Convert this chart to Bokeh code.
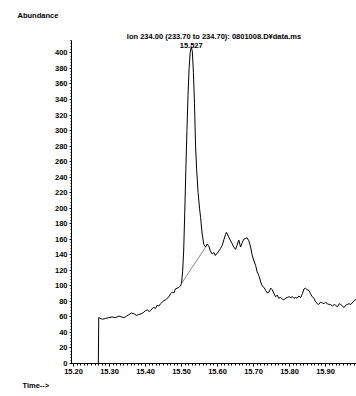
from bokeh.plotting import figure
from bokeh.models import Range1d, Label, Title, SingleIntervalTicker, NumeralTickFormatter
from bokeh.embed import file_html
from bokeh.resources import INLINE

# ---- data ----
time = [15.269, 15.270, 15.280, 15.289, 15.298, 15.307, 15.316, 15.326, 15.333, 15.340,
        15.347, 15.354, 15.361, 15.368, 15.375, 15.381, 15.388, 15.395, 15.400, 15.405,
        15.410, 15.414, 15.419, 15.423, 15.428, 15.432, 15.437, 15.442, 15.446, 15.451,
        15.456, 15.460, 15.465, 15.470, 15.474, 15.479, 15.483, 15.488, 15.493, 15.497,
        15.500, 15.503, 15.506, 15.509, 15.512, 15.515, 15.518, 15.521, 15.524, 15.527,
        15.530, 15.533, 15.536, 15.539, 15.542, 15.546, 15.550, 15.553, 15.557, 15.562,
        15.567, 15.571, 15.576, 15.580, 15.585, 15.590, 15.594, 15.599, 15.604, 15.608,
        15.613, 15.618, 15.622, 15.625, 15.630, 15.636, 15.640, 15.645, 15.650, 15.654,
        15.659, 15.664, 15.668, 15.673, 15.678, 15.682, 15.687, 15.692, 15.696, 15.701,
        15.706, 15.710, 15.715, 15.720, 15.724, 15.729, 15.734, 15.738, 15.743, 15.748,
        15.752, 15.757, 15.761, 15.766, 15.770, 15.775, 15.780, 15.784, 15.789, 15.794,
        15.798, 15.803, 15.808, 15.812, 15.817, 15.821, 15.826, 15.831, 15.836, 15.840,
        15.844, 15.849, 15.854, 15.858, 15.863, 15.868, 15.872, 15.877, 15.881, 15.886,
        15.891, 15.896, 15.900, 15.905, 15.910, 15.914, 15.919, 15.924, 15.928, 15.933,
        15.938, 15.942, 15.947, 15.951, 15.956, 15.960, 15.965, 15.970, 15.974, 15.980,
        15.986]
abundance = [0, 59, 57, 58, 59, 60, 59, 61, 60, 59,
             61, 63, 65, 64, 62, 63, 64, 66, 68, 69,
             67, 68, 71, 72, 71, 75, 74, 77, 79, 81,
             82, 84, 86, 90, 92, 91, 96, 97, 98, 100,
             103, 118, 145, 195, 250, 300, 345, 380, 400, 408,
             402, 375, 335, 280, 250, 220, 200, 188, 168, 153,
             150, 154, 151, 145, 141, 143, 139, 142, 145, 148,
             152, 160, 166, 169, 164, 158, 155, 150, 147, 152,
             159, 150, 155, 160, 161, 162, 158, 150, 140, 132,
             126, 118, 113, 105, 100, 98, 94, 91, 92, 97,
             95, 90, 86, 88, 84, 85, 83, 82, 84, 85,
             86, 85, 86, 84, 85, 84, 87, 85, 90, 96,
             97, 95, 94, 90, 86, 84, 80, 77, 76, 79,
             78, 77, 79, 77, 76, 76, 74, 76, 75, 73,
             77, 76, 74, 72, 75, 76, 77, 76, 78, 81,
             83]

# integration baseline of the labelled peak
base_time = [15.500, 15.567]
base_abundance = [103, 150]

peak_time = 15.527
peak_label = "15.527"
title_text = "Ion 234.00 (233.70 to 234.70): 0801008.D\u00a5data.ms"
y_label = "Abundance"
x_label = "Time-->"

FONT = "Liberation Sans"
FS = "7.5px"

p = figure(width=356, height=396, output_backend="svg", toolbar_location=None,
           x_range=Range1d(15.1944, 15.986), y_range=Range1d(0, 416),
           min_border_left=71, min_border_right=0, min_border_top=40, min_border_bottom=33)
p.outline_line_color = None
p.xgrid.visible = False
p.ygrid.visible = False
p.background_fill_color = "white"
p.border_fill_color = "white"

p.line(time, abundance, line_color="black", line_width=1)
p.line(base_time, base_abundance, line_color="#555555", line_width=0.7)

for ax in (p.xaxis[0], p.yaxis[0]):
    ax.axis_line_color = "black"
    ax.axis_line_width = 1
    ax.major_tick_line_color = "black"
    ax.minor_tick_line_color = "black"
    ax.major_label_text_font = FONT
    ax.major_label_text_font_style = "bold"
    ax.major_label_text_font_size = FS
    ax.major_label_text_color = "black"

p.xaxis.ticker = SingleIntervalTicker(interval=0.1, num_minor_ticks=10)
p.xaxis.formatter = NumeralTickFormatter(format="0.00")
p.xaxis.major_tick_out = 3
p.xaxis.major_tick_in = 0
p.xaxis.minor_tick_out = 2
p.xaxis.minor_tick_in = 0
p.xaxis.major_label_standoff = 2

p.yaxis.ticker = SingleIntervalTicker(interval=20, num_minor_ticks=5)
p.yaxis.formatter = NumeralTickFormatter(format="0")
p.yaxis.major_tick_out = 2
p.yaxis.major_tick_in = 0
p.yaxis.minor_tick_out = 1
p.yaxis.minor_tick_in = 0
p.yaxis.major_label_standoff = 2

def make_title(text, align, offset, standoff, valign="bottom"):
    return Title(text=text, align=align, offset=offset, standoff=standoff,
                 vertical_align=valign,
                 text_font=FONT, text_font_style="bold", text_font_size=FS,
                 text_color="black")

# nearest to the frame first
p.add_layout(make_title(title_text, "center", 0, 0), "above")
p.add_layout(make_title(y_label, "left", -54, 16, "top"), "above")
p.add_layout(make_title(x_label, "left", -49, 5), "below")

p.add_layout(Label(x=peak_time, y=410, text=peak_label, text_font=FONT,
                   text_font_style="bold", text_font_size=FS, text_align="center",
                   text_baseline="middle", text_color="black"))

open("out.html", "w").write(file_html(p, INLINE))
